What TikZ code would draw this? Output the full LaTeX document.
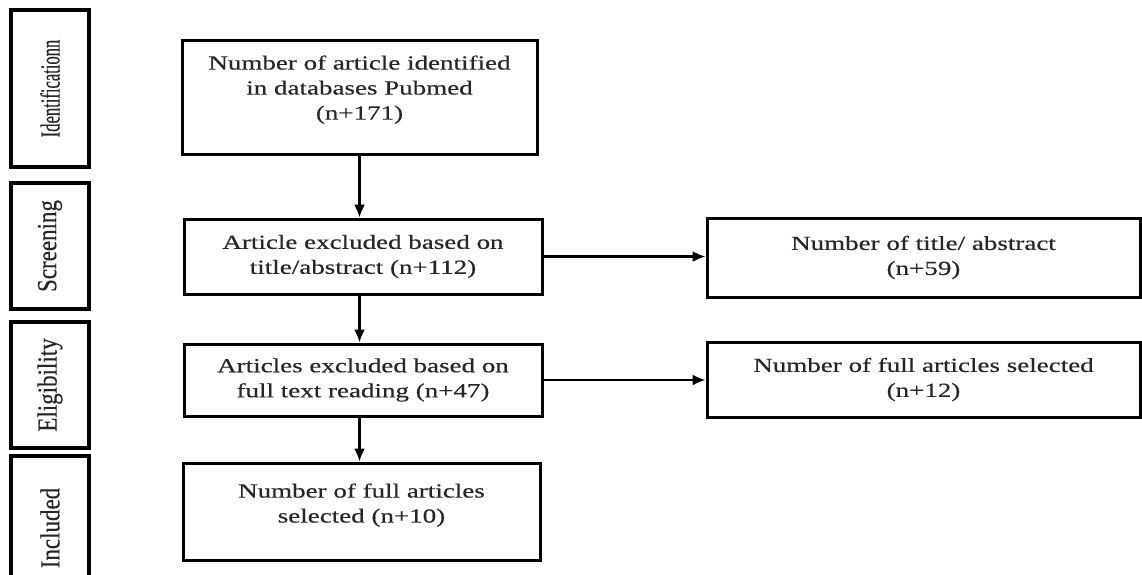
\documentclass[tikz,border=0pt]{standalone}
\usepackage{fontspec}
\setmainfont{Liberation Serif}[FakeStretch=1.35, FakeBold=0.4]
\newfontfamily\sidefont{Liberation Serif}[FakeBold=0.4]
\usetikzlibrary{arrows.meta}

\begin{document}
\begin{tikzpicture}[x=1pt, y=-1pt, >={Latex[length=13pt,width=11pt]},
    box/.style={draw, line width=3pt, align=center, text=black!85,
        font=\fontsize{20}{25}\selectfont, inner sep=0pt},
    phase/.style={draw, line width=3.5pt, rotate=90, minimum height=78pt,
        inner sep=0pt, text=black!85, font=\sidefont\fontsize{23}{23}\selectfont},
    flow/.style={->, line width=2.2pt}]

    % --- Marco ---
    \clip (0,0) rectangle (1142,574);

    % --- Etapas (columna izquierda) ---
    \node[phase, minimum width=157pt] (pIdent) at (50,88.5) {\scalebox{0.72}[1.2]{Identificationn}};
    \node[phase, minimum width=126pt] (pScreen) at (50,246) {\scalebox{1}[1.2]{Screening}};
    \node[phase, minimum width=126pt] (pElig) at (50,385) {\scalebox{1}[1.2]{Eligibility}};
    \node[phase, minimum width=144pt] (pIncl) at (50,528) {\scalebox{1}[1.2]{Included}};

    % --- Cajas principales ---
    \node[box, minimum width=355pt, minimum height=114pt, text depth=19pt] (ident) at (359.5,97)
        {Number of article identified\\in databases Pubmed\\(n+171)};
    \node[box, minimum width=358pt, minimum height=75pt] (screen) at (363,256.5)
        {Article excluded based on\\title/abstract (n+112)};
    \node[box, minimum width=358pt, minimum height=72pt] (elig) at (363,380)
        {Articles excluded based on\\full text reading (n+47)};
    \node[box, minimum width=357pt, minimum height=97pt, text depth=17pt] (incl) at (361.5,511.5)
        {Number of full articles\\selected (n+10)};

    % --- Cajas de la derecha ---
    \node[box, minimum width=433pt, minimum height=79pt] (abstr) at (923.5,257.5)
        {Number of title/ abstract\\(n+59)};
    \node[box, minimum width=433pt, minimum height=75pt] (fulltxt) at (923.5,379.5)
        {Number of full articles selected\\(n+12)};

    % --- Flechas ---
    \draw[flow] (ident.south) -- (ident.south |- screen.north);
    \draw[flow] (ident.south |- screen.south) -- (ident.south |- elig.north);
    \draw[flow] (ident.south |- elig.south) -- (ident.south |- incl.north);
    \draw[flow] (screen.east) -- (screen.east -| abstr.west);
    \draw[flow] (elig.east) -- (elig.east -| fulltxt.west);

\end{tikzpicture}
\end{document}
